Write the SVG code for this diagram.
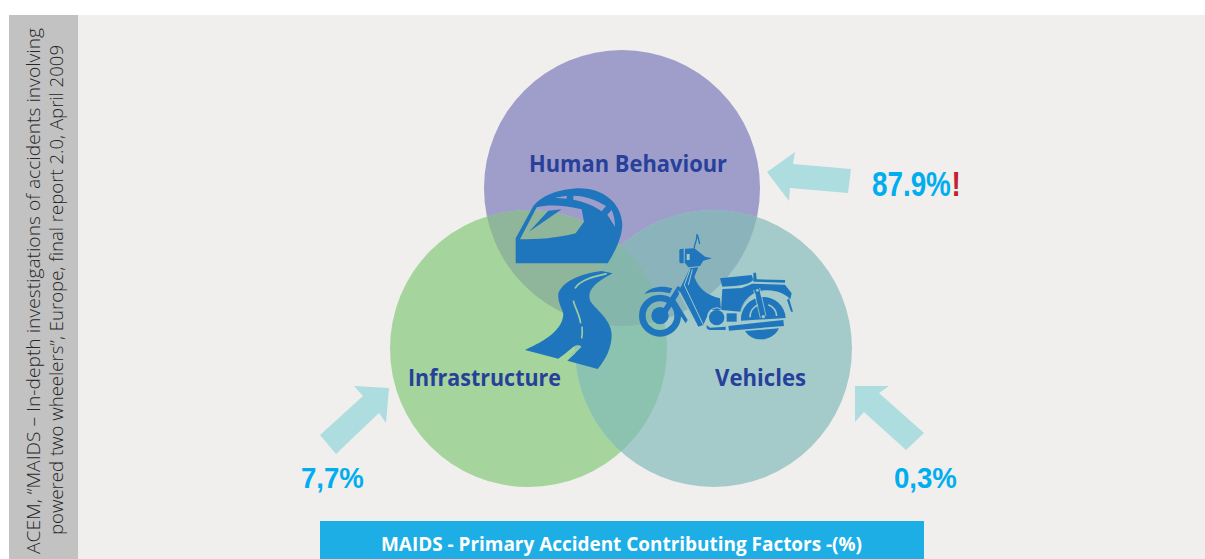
<svg xmlns="http://www.w3.org/2000/svg" width="1205" height="559" viewBox="0 0 1205 559">
<style>
.lab{font-family:"Open Sans","Liberation Sans",sans-serif;font-weight:700;font-size:23.5px;fill:#27409a}
.pct{font-family:"Liberation Sans",Arial,sans-serif;font-weight:700;fill:#00aeef}
.src{font-family:"Open Sans","Liberation Sans",sans-serif;font-weight:300;font-size:18px;fill:#262626}
.arr{fill:#aedddf}
.ico{fill:#1f76bd}
.gap{fill:none;stroke:#a0c8c8}
</style>
<defs>
<clipPath id="cH"><circle cx="622" cy="188" r="138"/></clipPath>
<clipPath id="cI"><circle cx="528.5" cy="348.5" r="138.5"/></clipPath>
<clipPath id="cV"><circle cx="713.5" cy="348.5" r="138.5"/></clipPath>
</defs>
<rect width="1205" height="559" fill="#fff"/>
<rect x="78" y="15" width="1127" height="544" fill="#f0efed"/>
<rect x="9" y="15" width="69" height="544" fill="#c2c2c2"/>
<g id="source-note">
<text class="src" transform="translate(40 554) rotate(-90)" textLength="526" lengthAdjust="spacingAndGlyphs">ACEM, “MAIDS – In-depth investigations of accidents involving</text>
<text class="src" transform="translate(63 535) rotate(-90)" textLength="490" lengthAdjust="spacingAndGlyphs">powered two wheelers”, Europe, final report 2.0, April 2009</text>
</g>
<g id="node-human"><circle cx="622" cy="188" r="138" fill="#9f9dc9"/></g>
<g id="node-infrastructure"><circle cx="528.5" cy="348.5" r="138.5" fill="#a5d49c"/></g>
<g id="node-vehicles"><circle cx="713.5" cy="348.5" r="138.5" fill="#a4cbca"/></g>
<g id="overlaps">
<circle cx="528.5" cy="348.5" r="138.5" fill="#8fb59a" clip-path="url(#cH)"/>
<circle cx="713.5" cy="348.5" r="138.5" fill="#8bb3bb" clip-path="url(#cH)"/>
<circle cx="713.5" cy="348.5" r="138.5" fill="#8cc2b0" clip-path="url(#cI)"/>
<g clip-path="url(#cH)"><circle cx="528.5" cy="348.5" r="138.5" fill="#85b6ab" clip-path="url(#cV)"/></g>
</g>
<g id="icon-helmet" transform="translate(510 180) scale(.33333)">
<path class="ico" fill-rule="evenodd" d="M17 175 L68 82 C85 55 130 30 200 25 C280 22 335 70 337 135 C335 175 315 215 293 250 L17 250 Z M30 178 L80 82 C120 72 170 78 215 88 L222 125 L197 160 C140 175 85 178 30 178 Z M135 53 L170 47 L170 56 Z M190 47 C225 47 260 60 288 78 L275 94 C250 76 220 65 190 59 Z M292 104 L305 90 C312 105 315 125 315 140 Z"/>
<path class="ico" d="M57 155 L115 92 L155 88 Z"/>
</g>
<g id="icon-road" transform="translate(500 170) scale(.33333)">
<path class="ico" d="M338 310 L305 303 C250 310 190 330 175 370 C172 400 190 420 190 435 C185 480 140 510 75 540 L175 566 C200 550 215 530 232 525 L245 530 C230 545 215 560 202 572 L293 597 C320 565 335 530 335 495 C335 450 290 420 272 395 C262 370 270 345 338 310 Z"/>
<path d="M320 311 C280 320 240 330 225 355 M220 392 C225 415 238 430 242 460 M246 470 C248 490 247 495 245 505 M240 527 L215 555" fill="none" stroke="#9ccba4" stroke-width="5"/>
</g>
<g id="icon-motorcycle" transform="translate(635 230) scale(.33333)">
<circle cx="75" cy="257" r="53" fill="none" stroke="#1f76bd" stroke-width="20"/>
<circle class="ico" cx="75" cy="257" r="26"/>
<path class="ico" d="M28 192 C45 170 85 165 112 175 L105 190 C80 183 55 183 28 192 Z"/>
<path class="ico" d="M68 262 L128 168 L142 176 L84 270 Z"/>
<path class="ico" d="M133 180 L165 115 L190 112 L178 140 C190 175 215 195 255 205 L258 240 L225 240 L205 285 L190 290 Z"/>
<path class="ico" d="M118 205 L158 270 L152 280 L110 218 Z"/>
<path class="gap" stroke-width="3" d="M165 118 L148 165 L205 285 M172 118 L160 165 M130 182 L185 285"/>
<path class="ico" d="M133 60 Q133 56 146 56 L146 100 L137 100 Q133 100 133 92 Z M150 56 L178 55 L210 80 L231 85 L205 92 L195 108 L160 112 L149 98 Z"/>
<path d="M178 56 C176 42 186 40 186 13 C192 25 192 35 194 42" fill="none" stroke="#1f76bd" stroke-width="4"/>
<rect x="155" y="72" width="9" height="18" fill="#a0c8c8"/>
<path class="ico" d="M255 145 L350 135 L355 150 C335 170 290 168 262 170 Z"/>
<path class="ico" d="M355 128 L363 128 L365 148 L450 150 L450 158 L355 155 Z"/>
<path class="ico" d="M262 177 L320 174 L352 161 L450 164 L470 190 L466 208 C440 180 400 178 370 185 C340 195 322 225 318 245 L258 240 Z"/>
<path class="ico" d="M318 272 A67 67 0 0 1 452 264 Z"/>
<path class="gap" stroke-width="2.5" d="M316 250 C322 215 345 190 380 183 C420 178 455 205 460 245"/>
<path class="gap" stroke-width="5" d="M345 262 A40 40 0 0 1 370 224 M400 224 A40 40 0 0 1 425 258"/>
<path class="ico" d="M358 178 L372 174 L392 258 L378 264 Z"/>
<path class="gap" stroke-width="2.5" d="M356 180 L376 264 M374 174 L393 258"/>
<circle cx="385" cy="260" r="5" fill="#a0c8c8"/>
<circle cx="367" cy="181" r="4" fill="#a0c8c8"/>
<circle cx="412" cy="186" r="4" fill="#a0c8c8"/>
<path class="ico" d="M462 205 L474 245 L468 245 L456 210 Z"/>
<circle class="ico" cx="245" cy="263" r="23"/>
<path class="gap" stroke-width="3" d="M218 262 A27 27 0 0 1 260 238"/>
<rect class="ico" x="275" y="250" width="30" height="25"/>
<path class="ico" d="M280 288 L445 270 L447 288 L282 302 Z"/>
<path class="ico" d="M215 285 L225 293 L272 290 L272 300 L222 300 L215 295 Z"/>
<path class="ico" d="M330 303 L432 295 C420 320 395 330 375 328 C355 328 340 318 330 303 Z"/>
</g>
<g id="labels">
<text class="lab" x="529" y="172" textLength="198" lengthAdjust="spacingAndGlyphs">Human Behaviour</text>
<text class="lab" x="408" y="386" textLength="153" lengthAdjust="spacingAndGlyphs">Infrastructure</text>
<text class="lab" x="715" y="386" textLength="91" lengthAdjust="spacingAndGlyphs">Vehicles</text>
</g>
<g id="connectors">
<polygon class="arr" points="767,172 795,152 793,164 851,169 848,193 790,188 789,201"/>
<polygon class="arr" points="389,388 354,386 363,396 320,435 336,454 379,413 386,423"/>
<polygon class="arr" points="855,386 889,386 879,393 924,433 906,450 864,412 855,422"/>
</g>
<g id="values">
<text class="pct" font-size="27.8" transform="translate(872 196) scale(1 1.25)">87.9%</text>
<text class="pct" font-size="27.8" transform="translate(951.5 196) scale(1 1.25)" style="fill:#c4202e">!</text>
<text class="pct" font-size="27.6" transform="translate(301 488) scale(1 1.1)">7,7%</text>
<text class="pct" font-size="27.6" transform="translate(894 488) scale(1 1.1)">0,3%</text>
</g>
<g id="title-banner">
<rect x="320" y="521" width="604" height="38" fill="#1eaee6"/>
<text x="381" y="551" font-family="'Open Sans','Liberation Sans',sans-serif" font-weight="700" font-size="20" fill="#fff" textLength="481" lengthAdjust="spacingAndGlyphs">MAIDS - Primary Accident Contributing Factors -(%)</text>
</g>
</svg>
